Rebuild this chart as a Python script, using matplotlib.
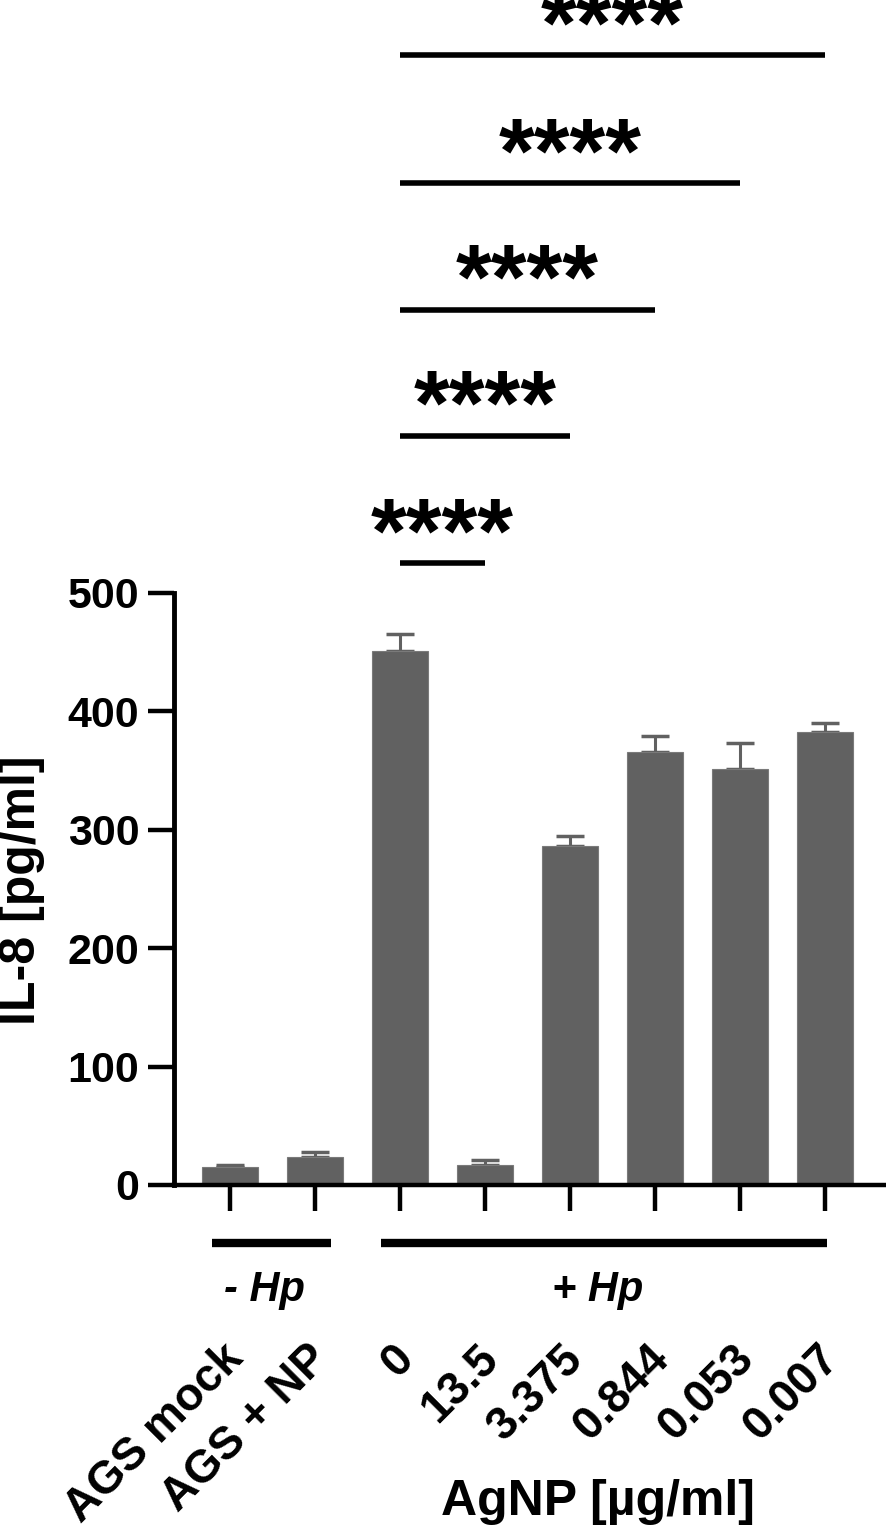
import matplotlib
matplotlib.use("Agg")
import matplotlib.pyplot as plt

plt.rcParams["font.family"] = ["Liberation Sans", "DejaVu Sans"]
plt.rcParams["font.weight"] = "bold"

labels = ["AGS mock", "AGS + NP", "0", "13.5", "3.375", "0.844", "0.053", "0.007"]
means = [15, 24, 451, 17, 286, 366, 351, 383]
errors = [2, 4, 14, 4, 9, 13, 22, 7]

# significance comparisons: reference bar index -> compared bar index
sig_pairs = [(2, 3), (2, 4), (2, 5), (2, 6), (2, 7)]
sig_heights = [525, 633, 739, 846, 954]
sig_text = "****"

groups = ["- Hp", "+ Hp"]
group_ranges = [(0, 1), (2, 7)]

bar_color = "#616161"

fig = plt.figure(figsize=(8.86, 15.30), dpi=100)
ax = fig.add_axes([174 / 886, (1530 - 1185) / 1530, 712 / 886, 592 / 1530])

x = list(range(len(labels)))
ax.bar(x, means, width=0.67, color=bar_color, edgecolor="#7a7a7a", linewidth=0.8, zorder=2)
ax.errorbar(x, means, yerr=[[0] * len(errors), errors], fmt="none", ecolor=bar_color,
            elinewidth=2.2, capsize=10, capthick=2.5, zorder=1)

ax.set_xlim(-0.659, 7.718)
ax.set_ylim(0, 500)
ax.set_yticks([0, 100, 200, 300, 400, 500])
ax.set_xticks(x)
ax.set_xticklabels([])

for side in ["top", "right"]:
    ax.spines[side].set_visible(False)
ax.spines["left"].set_linewidth(3.5)
ax.spines["bottom"].set_linewidth(3.2)
ax.tick_params(axis="y", length=19, width=3.2, labelsize=31, pad=6)
ax.tick_params(axis="x", length=19, width=3.2)
for t in ax.get_yticklabels():
    t.set_fontweight("bold")

# rotated category labels
for i, lab in enumerate(labels):
    ax.text(i + 0.08, -141, lab, rotation=45, ha="right", va="center",
            rotation_mode="anchor", fontsize=33, fontweight="bold", clip_on=False)

# group bars and labels
for name, (a, b) in zip(groups, group_ranges):
    if a == 0:
        x0, x1 = a - 0.21, b + 0.19
    else:
        x0, x1 = a - 0.22, b + 0.02
    ax.plot([x0, x1], [-49, -49], color="black", lw=6, solid_capstyle="butt", clip_on=False)
    ax.text((x0 + x1) / 2 - 0.08, -89, name, ha="center", va="center", fontsize=30,
            fontweight="bold", fontstyle="italic", clip_on=False)

# significance lines and stars
for (a, b), h in zip(sig_pairs, sig_heights):
    ax.plot([a, b], [h, h], color="black", lw=4, solid_capstyle="butt", clip_on=False)
    ax.text((a + b) / 2, h + 1, sig_text, ha="center", va="baseline", fontsize=66,
            fontweight="bold", clip_on=False)

ax.set_ylabel("IL-8 [pg/ml]", fontsize=36, fontweight="bold")
ax.yaxis.set_label_coords(-0.181, 0.498)
ax.set_xlabel("AgNP [µg/ml]", fontsize=36, fontweight="bold")
ax.xaxis.set_label_coords(0.5955, -0.497)

fig.savefig("out.png", dpi=100)
